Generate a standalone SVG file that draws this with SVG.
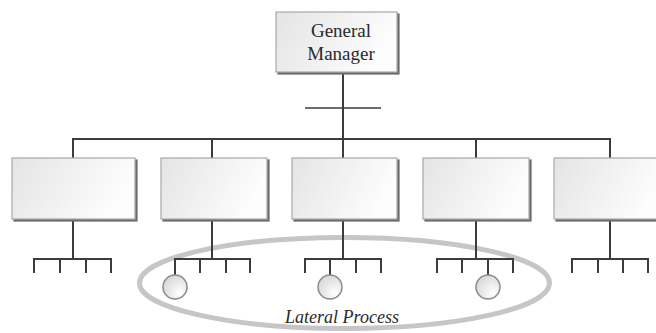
<svg xmlns="http://www.w3.org/2000/svg" width="656" height="333" viewBox="0 0 656 333">
<defs>
<linearGradient id="boxg" x1="0" y1="0" x2="1" y2="0.3">
<stop offset="0" stop-color="#e4e4e6"/>
<stop offset="1" stop-color="#fdfdfd"/>
</linearGradient>
<radialGradient id="circg" cx="0.7" cy="0.75" r="0.9">
<stop offset="0" stop-color="#ffffff"/>
<stop offset="1" stop-color="#d2d2d4"/>
</radialGradient>
<filter id="sh" x="-5%" y="-5%" width="115%" height="120%">
<feOffset in="SourceAlpha" dx="1.5" dy="2" result="o"/>
<feFlood flood-color="#6a6a6a"/>
<feComposite operator="in" in2="o" result="s"/>
<feMerge><feMergeNode in="s"/><feMergeNode in="SourceGraphic"/></feMerge>
</filter>
</defs>
<style>
.box{fill:url(#boxg);stroke:#a8a8a8;stroke-width:1.2;filter:url(#sh)}
.ln{fill:none;stroke:#3c3c3c;stroke-width:2}
.thin{fill:none;stroke:#3c3c3c;stroke-width:1.5}
.circ{fill:url(#circg);stroke:#8a8a8a;stroke-width:1.5}
.gm{font-family:"Liberation Serif",serif;font-size:19px;fill:#2a2a2a;text-anchor:middle}
.lp{font-family:"Liberation Serif",serif;font-size:18px;font-style:italic;fill:#2a2a2a;text-anchor:middle}
</style>
<g id="lateral-process">
<ellipse cx="344.5" cy="283" rx="205" ry="45.5" fill="none" stroke="#c6c6c8" stroke-width="5"/>
<text class="lp" x="342" y="323">Lateral Process</text>
</g>
<g id="connectors">
<path class="ln" d="M343 74V139M73 158V139H610V158M212 139V158M343 139V158M476 139V158"/>
<path class="thin" d="M305 108H381"/>
<path class="ln" d="M73 221V259M34 273V259H111V273M60 259V273M86 259V273"/>
<path class="ln" d="M212 221V259M175 275V259H250V273M200 259V273M226 259V273"/>
<path class="ln" d="M343 221V259M305 273V259H381V273M330 259V275M356 259V273"/>
<path class="ln" d="M476 221V259M437 273V259H513V273M462 259V273M488 259V275"/>
<path class="ln" d="M610 221V259M572 273V259H648V273M598 259V273M623 259V273"/>
</g>
<g id="general-manager">
<rect class="box" x="276" y="12" width="121" height="60"/>
<text class="gm" x="341" y="37">General</text>
<text class="gm" x="341" y="60">Manager</text>
</g>
<g id="unit-1"><rect class="box" x="12" y="158" width="123" height="61"/></g>
<g id="unit-2"><rect class="box" x="161" y="158" width="106" height="61"/></g>
<g id="unit-3"><rect class="box" x="292" y="158" width="105" height="61"/></g>
<g id="unit-4"><rect class="box" x="423" y="158" width="106" height="61"/></g>
<g id="unit-5"><rect class="box" x="554" y="158" width="110" height="61"/></g>
<g id="process-1"><circle class="circ" cx="175" cy="287" r="12"/></g>
<g id="process-2"><circle class="circ" cx="330" cy="287" r="12"/></g>
<g id="process-3"><circle class="circ" cx="488" cy="287" r="12"/></g>
</svg>
